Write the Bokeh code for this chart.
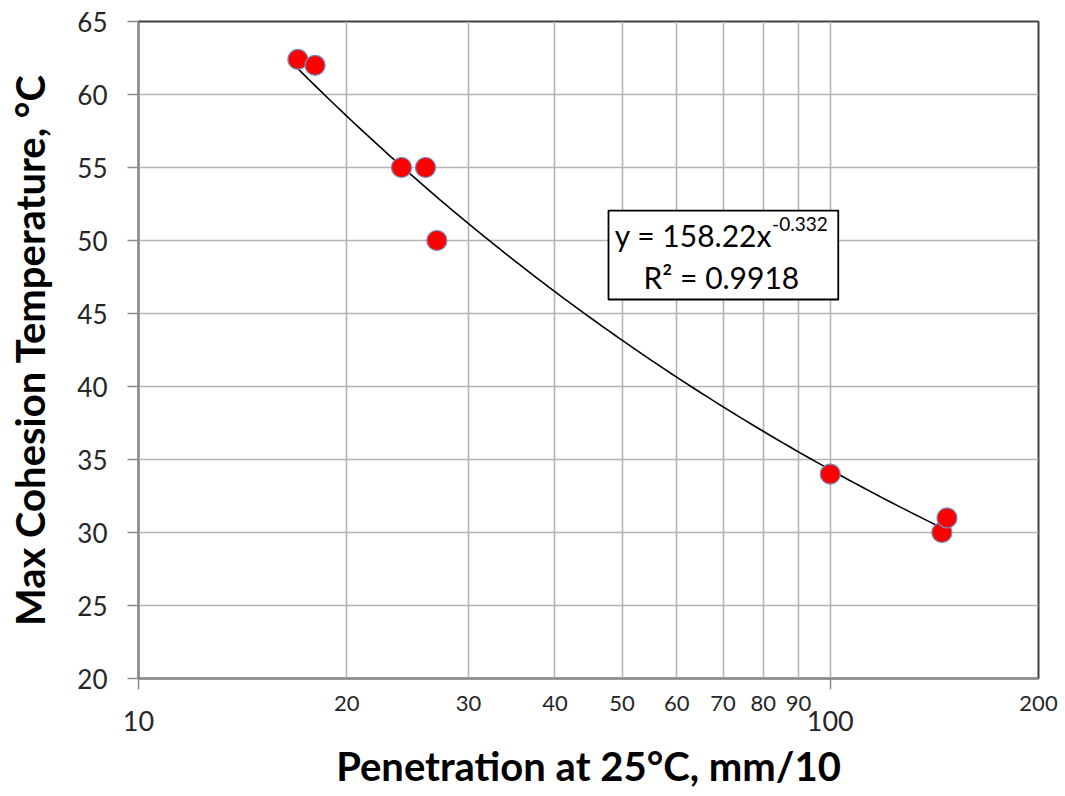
import numpy as np
from bokeh.plotting import figure
from bokeh.models import (Range1d, FixedTicker, LogAxis, PrintfTickFormatter,
                          Label, BoxAnnotation, ColumnDataSource)
from bokeh.embed import file_html
from bokeh.resources import INLINE

# Measured samples
penetration = [17.0, 18.0, 24.0, 26.0, 27.0, 100.0, 145.0, 147.5]
cohesion_temp = [62.4, 62.0, 55.0, 55.0, 50.0, 34.0, 30.0, 31.0]

# Power-law fit y = a * x^b
fit_a = 158.22
fit_b = -0.332
fit_r2 = 0.9918

x_small_ticks = [20, 30, 40, 50, 60, 70, 80, 90, 200]
x_big_ticks = [10, 100]
x_grid = [10, 20, 30, 40, 50, 60, 70, 80, 90, 100, 200]
y_ticks = [20, 25, 30, 35, 40, 45, 50, 55, 60, 65]

FONT = "Lato"
TXT = "#262626"
GRID = "#b4b4b4"

p = figure(width=1065, height=796, x_axis_type="log",
           x_range=Range1d(10, 200), y_range=Range1d(20, 65),
           output_backend="svg", toolbar_location=None,
           min_border_left=138, min_border_right=27,
           min_border_top=21, min_border_bottom=118)
p.background_fill_color = "white"
p.border_fill_color = "white"
p.outline_line_color = "#404040"
p.outline_line_width = 2

# grid
p.xgrid.ticker = FixedTicker(ticks=x_grid)
p.ygrid.ticker = FixedTicker(ticks=y_ticks)
for g in (p.xgrid, p.ygrid):
    g.grid_line_color = GRID
    g.grid_line_width = 1.6

# primary x axis: small labels, short marks at the decades
ax = p.xaxis[0]
ax.ticker = FixedTicker(ticks=x_small_ticks, minor_ticks=x_big_ticks)
ax.formatter = PrintfTickFormatter(format="%d")
ax.major_tick_out = 0
ax.major_tick_in = 0
ax.minor_tick_out = 11
ax.minor_tick_in = 0
ax.minor_tick_line_color = "#8c8c8c"
ax.minor_tick_line_width = 1.5
ax.axis_line_color = "#8c8c8c"
ax.axis_line_width = 1.5
ax.major_label_text_font = FONT
ax.major_label_text_font_size = "22px"
ax.major_label_text_color = TXT
ax.major_label_standoff = 6

# second x axis: decade labels, set lower and larger
ax2 = LogAxis(ticker=FixedTicker(ticks=x_big_ticks),
              formatter=PrintfTickFormatter(format="%d"))
ax2.axis_line_color = None
ax2.major_tick_line_color = None
ax2.minor_tick_line_color = None
ax2.major_tick_out = 0
ax2.major_tick_in = 0
ax2.major_label_text_font = FONT
ax2.major_label_text_font_size = "27px"
ax2.major_label_text_color = TXT
ax2.major_label_standoff = -3
ax2.axis_label = "Penetration at 25\u00b0C, mm/10"
ax2.axis_label_text_font = FONT
ax2.axis_label_text_font_size = "40px"
ax2.axis_label_text_font_style = "bold"
ax2.axis_label_text_color = "black"
ax2.axis_label_standoff = 8
p.add_layout(ax2, "below")

# y axis
ay = p.yaxis[0]
ay.ticker = FixedTicker(ticks=y_ticks)
ay.major_tick_out = 11
ay.major_tick_in = 0
ay.minor_tick_line_color = None
ay.major_tick_line_color = "#8c8c8c"
ay.major_tick_line_width = 1.5
ay.axis_line_color = "#8c8c8c"
ay.axis_line_width = 1.5
ay.major_label_text_font = FONT
ay.major_label_text_font_size = "26px"
ay.major_label_text_color = TXT
ay.major_label_standoff = 20
ay.axis_label = "Max Cohesion Temperature, \u00b0C"
ay.axis_label_text_font = FONT
ay.axis_label_text_font_size = "40px"
ay.axis_label_text_font_style = "bold"
ay.axis_label_text_color = "black"
ay.axis_label_standoff = 20

# trend line from the fitted coefficients
xs = np.geomspace(min(penetration), max(penetration), 120)
p.line(xs, fit_a * xs ** fit_b, line_color="black", line_width=1.6)

# samples
src = ColumnDataSource(dict(x=penetration, y=cohesion_temp))
p.scatter("x", "y", source=src, size=20, fill_color="#ff0000",
          line_color="#6f8fc0", line_width=1.2)

# equation box
p.add_layout(BoxAnnotation(left=47.8, right=102.7, bottom=45.96, top=52.05,
                           fill_color="white", fill_alpha=1.0,
                           line_color="black", line_alpha=1.0, line_width=1.8))
p.add_layout(Label(x=82.4, y=50.41, text=f"y = {fit_a:.2f}x",
                   text_align="right", text_baseline="alphabetic",
                   text_font=FONT, text_font_size="30px", text_color="black"))
p.add_layout(Label(x=82.4, y=51.1, text=f"{fit_b:.3f}",
                   text_align="left", text_baseline="alphabetic",
                   text_font=FONT, text_font_size="19px", text_color="black"))
p.add_layout(Label(x=69.6, y=47.53, text=f"R\u00b2 = {fit_r2:.4f}",
                   text_align="center", text_baseline="alphabetic",
                   text_font=FONT, text_font_size="30px", text_color="black"))

open("out.html", "w").write(file_html(p, INLINE))
